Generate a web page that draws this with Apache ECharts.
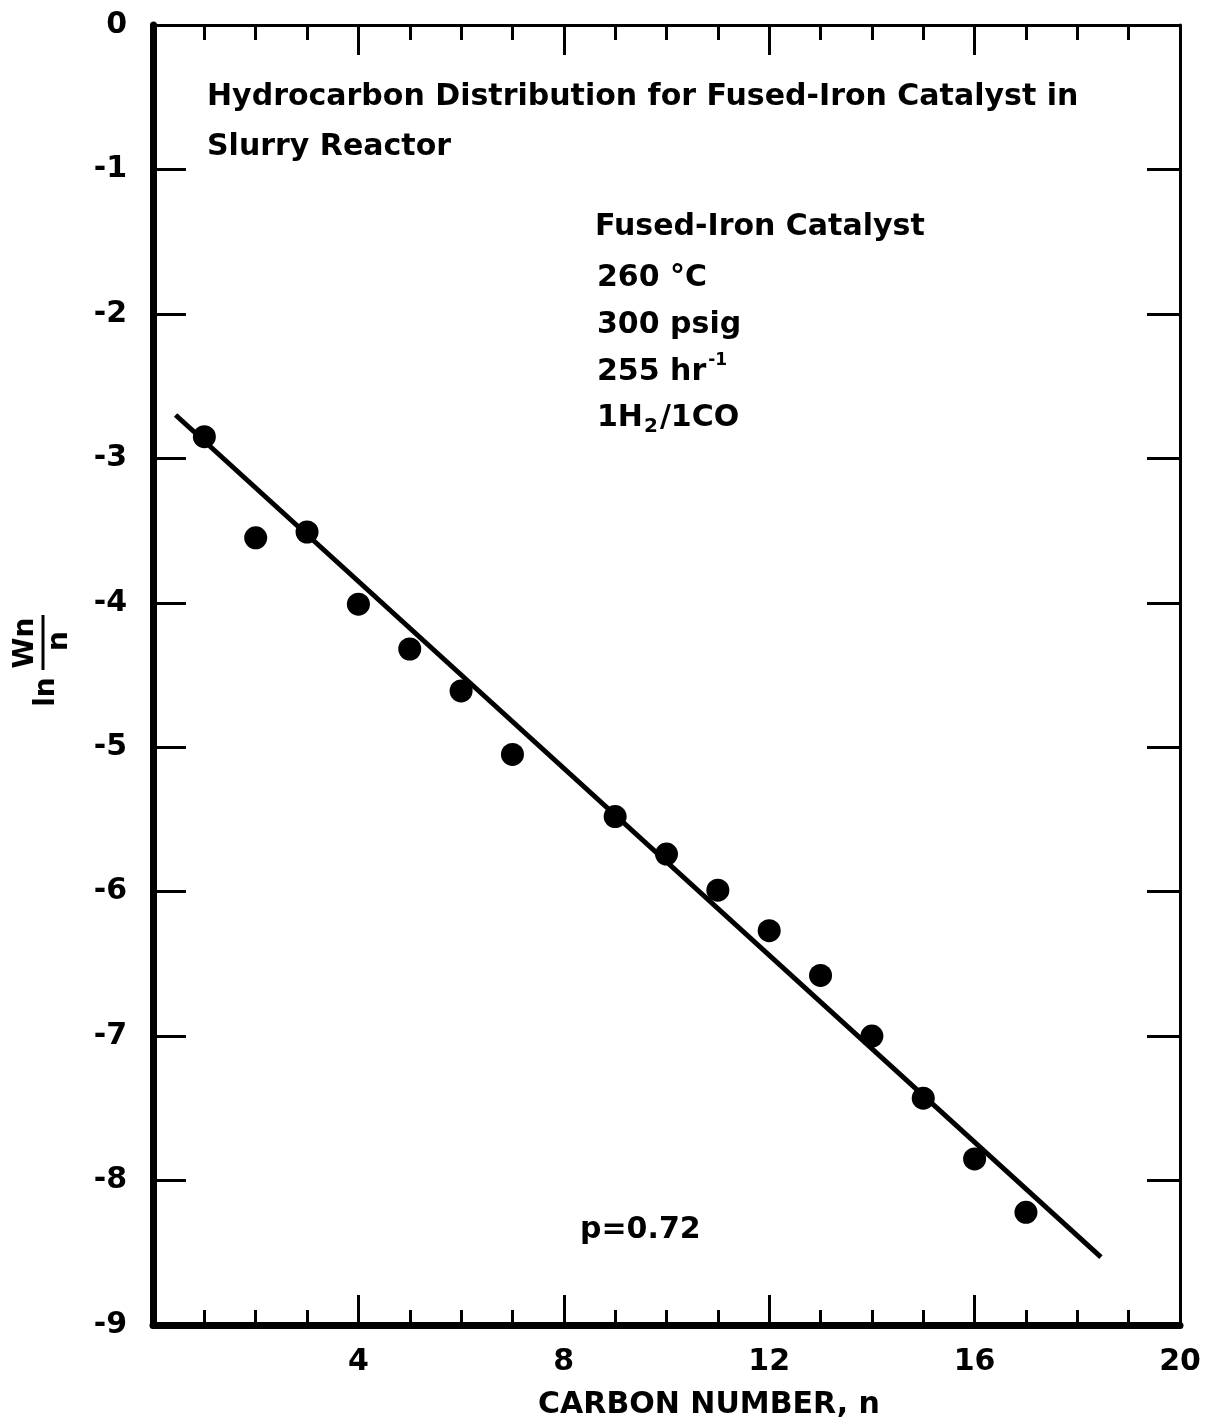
<!DOCTYPE html>
<html><head><meta charset="utf-8">
<script src="https://cdn.jsdelivr.net/npm/echarts@6/dist/echarts.min.js"></script>
<style>html,body{margin:0;padding:0;background:#fff}#c{width:1208px;height:1423px}</style>
</head><body><div id="c"></div>
<script>
// ---- data ----
const carbonNumbers = [1, 2, 3, 4, 5, 6, 7, 9, 10, 11, 12, 13, 14, 15, 16, 17];
const lnWnOverN = [-2.85, -3.55, -3.51, -4.01, -4.32, -4.61, -5.05, -5.48, -5.74, -5.99, -6.27, -6.58, -7.00, -7.43, -7.85, -8.22];
const fitLineX = [0.44, 18.46];
const fitLineY = [-2.70, -8.53];
const xTickValues = [4, 8, 12, 16, 20];
const xTickLabels = ['4', '8', '12', '16', '20'];
const yTickValues = [0, -1, -2, -3, -4, -5, -6, -7, -8, -9];
const yTickLabels = ['0', '-1', '-2', '-3', '-4', '-5', '-6', '-7', '-8', '-9'];
const titleLines = ['Hydrocarbon Distribution for Fused-Iron Catalyst in', 'Slurry Reactor'];
const xAxisTitle = 'CARBON NUMBER, n';
const pLabel = 'p=0.72';

const FONT = '"DejaVu Sans", sans-serif';
const chart = echarts.init(document.getElementById('c'), null, {renderer: 'canvas'});

const ctx = document.createElement('canvas').getContext('2d');
function tw(t, fs) { ctx.font = 'bold ' + fs + 'px "DejaVu Sans"'; return ctx.measureText(t).width; }

function txt(t, x, y, fs, align) {
  return {type: 'text', x: x, y: y, silent: true,
    style: {text: t, fontSize: fs, fontFamily: FONT, fontWeight: 'bold', fill: '#000', align: align || 'left', verticalAlign: 'middle'}};
}

const FS = 30;
const graphics = [
  txt(titleLines[0], 207, 97, FS),
  txt(titleLines[1], 207, 147, FS),
  txt('Fused-Iron Catalyst', 595, 227, FS),
  txt('260 °C', 597, 278, FS),
  txt('300 psig', 597, 325, FS),
  txt('255 hr', 597, 372, FS),
  txt('-1', 597 + tw('255 hr', FS) + 2, 361, 17),
  txt('1H', 597, 418, FS),
  txt('2', 597 + tw('1H', FS) + 1, 427, 20),
  txt('/1CO', 597 + tw('1H', FS) + tw('2', 20) + 3, 418, FS),
  txt(pLabel, 580, 1230, FS),
  txt(xAxisTitle, 709, 1405, 30, 'center'),
  {type: 'group', x: 43, y: 667, rotation: Math.PI / 2, silent: true, children: [
    {type: 'text', x: -25, y: 4, style: {text: 'ln', fontSize: 28, fontFamily: FONT, fontWeight: 'bold', fill: '#000', align: 'center', verticalAlign: 'middle'}},
    {type: 'text', x: 24, y: -17, style: {text: 'Wn', fontSize: 28, fontFamily: FONT, fontWeight: 'bold', fill: '#000', align: 'center', verticalAlign: 'middle'}},
    {type: 'line', shape: {x1: -3, y1: 0, x2: 52, y2: 0}, style: {stroke: '#000', lineWidth: 3}},
    {type: 'text', x: 26, y: 17, style: {text: 'n', fontSize: 28, fontFamily: FONT, fontWeight: 'bold', fill: '#000', align: 'center', verticalAlign: 'middle'}}
  ]}
];

const tickStyle = {color: '#000', width: 3};
const baseX = {type: 'value', min: 0, max: 20, interval: 4, splitLine: {show: false},
  axisTick: {show: true, inside: true, length: 30, lineStyle: tickStyle},
  minorTick: {show: true, splitNumber: 4, length: 15, lineStyle: tickStyle}};
const baseY = {type: 'value', min: -9, max: 0, interval: 1, splitLine: {show: false},
  axisTick: {show: true, inside: true, length: 33, lineStyle: tickStyle}};

const option = {
  animation: false,
  backgroundColor: '#fff',
  grid: {left: 153, top: 25, width: 1027, height: 1300},
  xAxis: [
    Object.assign({}, baseX, {position: 'bottom',
      axisLine: {show: true, onZero: false, lineStyle: {color: '#000', width: 7}},
      axisLabel: {show: true, fontSize: 30, fontFamily: FONT, fontWeight: 'bold', color: '#000', margin: 22,
        formatter: v => { const i = xTickValues.indexOf(v); return i >= 0 ? xTickLabels[i] : ''; }}}),
    Object.assign({}, baseX, {position: 'top',
      axisLine: {show: true, onZero: false, lineStyle: {color: '#000', width: 3}},
      axisLabel: {show: false}})
  ],
  yAxis: [
    Object.assign({}, baseY, {position: 'left',
      axisLine: {show: true, onZero: false, lineStyle: {color: '#000', width: 7}},
      axisLabel: {show: true, fontSize: 30, fontFamily: FONT, fontWeight: 'bold', color: '#000', margin: 26,
        formatter: v => { const i = yTickValues.indexOf(v); return i >= 0 ? yTickLabels[i] : ''; }}}),
    Object.assign({}, baseY, {position: 'right',
      axisLine: {show: true, onZero: false, lineStyle: {color: '#000', width: 3}},
      axisLabel: {show: false}})
  ],
  series: [
    {type: 'line', xAxisIndex: 0, yAxisIndex: 0, symbol: 'none', silent: true,
      data: fitLineX.map((x, i) => [x, fitLineY[i]]),
      lineStyle: {color: '#000', width: 5}},
    {type: 'scatter', xAxisIndex: 0, yAxisIndex: 0, symbol: 'circle', symbolSize: 23, silent: true,
      data: carbonNumbers.map((n, i) => [n, lnWnOverN[i]]),
      itemStyle: {color: '#000', opacity: 1}}
  ],
  graphic: graphics
};
chart.setOption(option);
</script>
</body></html>
